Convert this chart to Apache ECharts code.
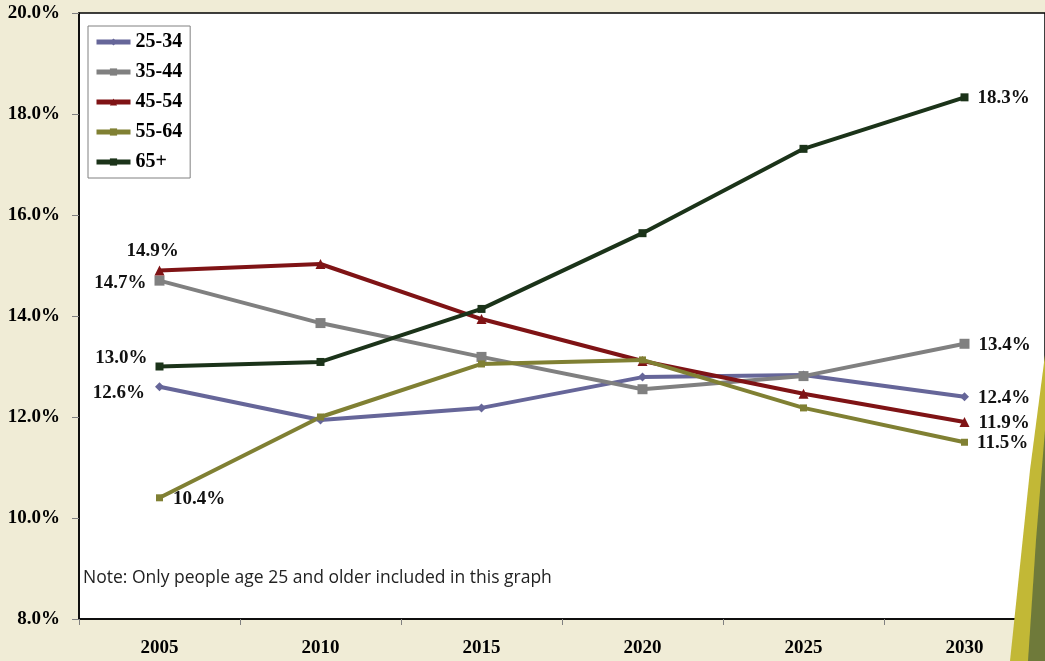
<!DOCTYPE html>
<html>
<head>
    <meta charset="utf-8">
    <title>Age group share</title>
    <script src="https://cdn.jsdelivr.net/npm/echarts@6/dist/echarts.min.js"></script>
    <style>
        html, body { margin: 0; padding: 0; background: #f0ecd6; }
        #main { width: 1045px; height: 661px; }
    </style>
</head>
<body>
    <div id="main"></div>
    <script type="text/javascript">
        var years = ['2005', '2010', '2015', '2020', '2025', '2030'];
        var names = ['25-34', '35-44', '45-54', '55-64', '65+'];
        var age2534 = [12.6, 11.94, 12.18, 12.79, 12.83, 12.4];
        var age3544 = [14.7, 13.86, 13.19, 12.55, 12.81, 13.45];
        var age4554 = [14.9, 15.03, 13.94, 13.11, 12.46, 11.9];
        var age5564 = [10.4, 12.0, 13.05, 13.13, 12.18, 11.5];
        var age65 = [13.0, 13.09, 14.14, 15.64, 17.31, 18.33];
        var yTicks = ['8.0%', '10.0%', '12.0%', '14.0%', '16.0%', '18.0%', '20.0%'];

        var colors = ['#666699', '#808080', '#7f1315', '#808033', '#1b3319'];
        var symbols = ['diamond', 'rect', 'triangle', 'rect', 'rect'];
        var symbolSizes = [9, 10, 10, 7, 8];
        // first label placement for each series
        var firstLabel = [
            { position: 'left', offset: [-2, 6] },
            { position: 'left', offset: [0, 2] },
            { position: 'top', offset: [-7, 3] },
            { position: 'right', offset: [2, 1] },
            { position: 'left', offset: [0, -8] }
        ];
        var allData = [age2534, age3544, age4554, age5564, age65];

        var labelFont = {
            fontFamily: 'Liberation Serif',
            fontWeight: 'bold',
            fontSize: 19,
            color: '#111'
        };

        var series = allData.map(function (vals, i) {
            return {
                name: names[i],
                type: 'line',
                symbol: symbols[i],
                symbolSize: symbolSizes[i],
                lineStyle: { width: 4, color: colors[i] },
                itemStyle: { color: colors[i] },
                z: i === 4 ? 3 : 2,
                data: vals.map(function (v, j) {
                    var item = { value: v };
                    if (j === 0 || j === vals.length - 1) {
                        var cfg = j === 0 ? firstLabel[i] : { position: 'right', offset: [1, 1] };
                        item.label = Object.assign({
                            show: true,
                            formatter: v.toFixed(1) + '%',
                            position: cfg.position,
                            offset: cfg.offset,
                            distance: 8
                        }, labelFont);
                    }
                    return item;
                })
            };
        });

        var myChart = echarts.init(document.getElementById('main'));
        var option = {
            backgroundColor: '#f0ecd6',
            animation: false,
            grid: {
                left: 79,
                right: 0,
                top: 13,
                bottom: 42,
                show: true,
                backgroundColor: '#ffffff',
                borderColor: '#000',
                borderWidth: 1.5
            },
            legend: {
                orient: 'vertical',
                left: 88,
                top: 26,
                padding: [6, 8, 6, 6],
                itemWidth: 34,
                itemHeight: 9,
                itemGap: 10,
                backgroundColor: '#fff',
                borderColor: '#808080',
                borderWidth: 1,
                lineStyle: { width: 5 },
                data: names,
                textStyle: {
                    fontFamily: 'Liberation Serif',
                    fontWeight: 'bold',
                    fontSize: 20,
                    color: '#000'
                }
            },
            xAxis: {
                type: 'category',
                data: years,
                boundaryGap: true,
                axisLine: { lineStyle: { color: '#000', width: 1.5 } },
                axisTick: { show: true, length: 6, lineStyle: { color: '#808080' } },
                axisLabel: {
                    margin: 20,
                    fontFamily: 'Liberation Serif',
                    fontWeight: 'bold',
                    fontSize: 19,
                    color: '#000'
                },
                splitLine: { show: false }
            },
            yAxis: {
                type: 'value',
                min: 8,
                max: 20,
                interval: 2,
                axisLine: { show: true, lineStyle: { color: '#000', width: 1.5 } },
                axisTick: { show: true, length: 7, lineStyle: { color: '#808080' } },
                axisLabel: {
                    margin: 19,
                    fontFamily: 'Liberation Serif',
                    fontWeight: 'bold',
                    fontSize: 19,
                    color: '#000',
                    formatter: function (v) { return yTicks[(v - 8) / 2]; }
                },
                splitLine: { show: false }
            },
            graphic: [
                {
                    type: 'text',
                    left: 83,
                    top: 569,
                    style: {
                        text: 'Note: Only people age 25 and older included in this graph',
                        fontFamily: 'Open Sans',
                        fontSize: 17.5,
                        fill: '#222'
                    }
                },
                {
                    type: 'polygon',
                    z: 100,
                    shape: { points: [[1045, 355], [1030, 470], [1010, 661], [1045, 661]] },
                    style: { fill: '#c2b836' }
                },
                {
                    type: 'polygon',
                    z: 101,
                    shape: { points: [[1045, 430], [1036, 540], [1028, 661], [1045, 661]] },
                    style: { fill: '#6f7a3a' }
                }
            ],
            series: series
        };
        myChart.setOption(option);
    </script>
</body>
</html>
